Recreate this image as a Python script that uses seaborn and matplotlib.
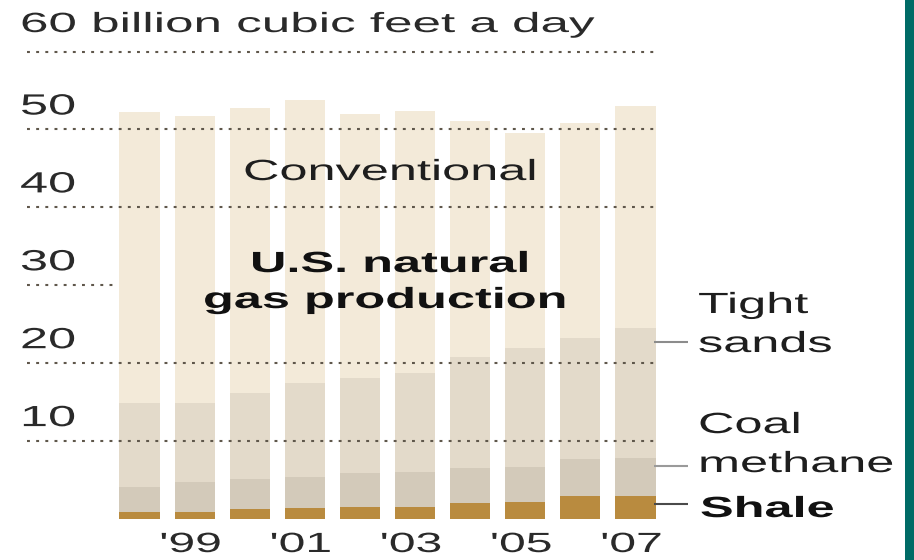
import matplotlib
matplotlib.use("Agg")
import matplotlib.pyplot as plt
import seaborn as sns
import pandas as pd
from matplotlib.patheffects import AbstractPathEffect
from matplotlib.transforms import Affine2D, ScaledTranslation, blended_transform_factory
from matplotlib.patches import Rectangle

# U.S. natural gas production by source, billion cubic feet a day
years = ["1998", "1999", "2000", "2001", "2002", "2003", "2004", "2005", "2006", "2007"]
shale = [0.9, 0.9, 1.3, 1.4, 1.5, 1.6, 2.0, 2.2, 2.9, 2.9]
coal_methane = [3.2, 3.8, 3.8, 4.0, 4.4, 4.4, 4.5, 4.5, 4.8, 4.9]
tight_sands = [10.8, 10.2, 11.1, 12.1, 12.2, 12.7, 14.3, 15.3, 15.5, 16.7]
conventional = [37.3, 36.8, 36.5, 36.3, 33.9, 33.7, 30.3, 27.6, 27.6, 28.5]

tick_years = ["1999", "2001", "2003", "2005", "2007"]
tick_labels = ["'99", "'01", "'03", "'05", "'07"]
grid_values = [10, 20, 30, 40, 50, 60]
axis_labels = [10, 20, 30, 40, 50]
leader_values = [22.7, 6.8, 1.9]

W, H, DPI = 914, 560, 100
SX = 1.73
INK = "#1e1e1e"
GRID = "#5f574b"
COLORS = {
    "Conventional": "#F3EAD9",
    "Tight sands": "#E3DACA",
    "Coal methane": "#D3CABA",
    "Shale": "#B98B3F",
}

sns.set_theme(style="white")
plt.rcParams["font.family"] = ["Liberation Sans", "DejaVu Sans"]

fig = plt.figure(figsize=(W / DPI, H / DPI), dpi=DPI, facecolor="white")
ax = fig.add_axes([0, 0, 1, 1])

df = pd.DataFrame({
    "year": years,
    "shale": shale,
    "coal": coal_methane,
    "tight": tight_sands,
    "conv": conventional,
})
df["top_shale"] = df["shale"]
df["top_coal"] = df["top_shale"] + df["coal"]
df["top_tight"] = df["top_coal"] + df["tight"]
df["total"] = df["top_tight"] + df["conv"]

# stacked columns: draw cumulative tops from the largest down
layers = [
    ("total", COLORS["Conventional"]),
    ("top_tight", COLORS["Tight sands"]),
    ("top_coal", COLORS["Coal methane"]),
    ("top_shale", COLORS["Shale"]),
]
for col, color in layers:
    sns.barplot(data=df, x="year", y=col, order=years, color=color,
                saturation=1, width=0.73, errorbar=None, linewidth=0, ax=ax)

ax.set_xlim(-2.532, 14.056)
ax.set_ylim(-5.263, 66.62)
ax.axis("off")

# dotted reference lines (the 30 line stops at the first column)
for v in grid_values:
    x_end = -0.41 if v == 30 else 9.36
    ax.hlines(v, -2.04, x_end, colors=GRID, linewidth=1.5,
              linestyles=(0, (1.4, 3.0)), zorder=5)

# leader lines to the series labels
for v, c in zip(leader_values, ["#8c8c8c", "#9a9a9a", "#4a4a4a"]):
    ax.hlines(v, 9.33, 9.95, colors=c, linewidth=1.5, zorder=5)


class WideGlyphs(AbstractPathEffect):
    """Draw glyph outlines widened horizontally about the text origin."""

    def __init__(self, sx):
        super().__init__()
        self._sx = sx

    def draw_path(self, renderer, gc, tpath, affine, rgbFace=None):
        renderer.draw_path(gc, tpath, Affine2D().scale(self._sx, 1.0) + affine, rgbFace)


renderer = fig.canvas.get_renderer()


def wide_text(x, y, s, transform, size=21, weight="normal", color=INK,
              width=None, center=False):
    t = fig.text(x, y, s, transform=transform, fontsize=size, fontweight=weight,
                 color=color, ha="left", va="baseline")
    natural = t.get_window_extent(renderer).width
    sx = SX if width is None else width / natural
    t.set_path_effects([WideGlyphs(sx)])
    if center:
        t.set_transform(transform + ScaledTranslation(-natural * sx / 2 / DPI, 0,
                                                      fig.dpi_scale_trans))
    return t


def px(x, y):
    return x / W, 1 - y / H


# unit title
wide_text(*px(20, 32), "60 billion cubic feet a day", fig.transFigure,
          size=20, color="#2a2a2a", width=574)

# value labels sit just above their dotted lines
ylab_tr = blended_transform_factory(fig.transFigure, ax.transData) + \
    ScaledTranslation(0, 15 / DPI, fig.dpi_scale_trans)
for v in axis_labels:
    wide_text(20 / W, v, str(v), ylab_tr, color="#2a2a2a")

# year labels below the columns
xlab_tr = ax.transData + ScaledTranslation(-4 / DPI, -33 / DPI, fig.dpi_scale_trans)
for yr, lab in zip(tick_years, tick_labels):
    wide_text(years.index(yr), 0, lab, xlab_tr, size=20, color="#2a2a2a",
              center=True)

# in-chart labels
wide_text(*px(243, 180), "Conventional", fig.transFigure)
wide_text(*px(250, 272), "U.S. natural", fig.transFigure, weight="bold", color="#111111")
wide_text(*px(203, 308), "gas production", fig.transFigure, weight="bold", color="#111111")

# series labels on the right
wide_text(*px(698, 313), "Tight", fig.transFigure)
wide_text(*px(698, 352), "sands", fig.transFigure)
wide_text(*px(698, 433), "Coal", fig.transFigure)
wide_text(*px(698, 472), "methane", fig.transFigure)
wide_text(*px(700, 517), "Shale", fig.transFigure, weight="bold", color="#111111")

# teal edge strip
fig.add_artist(Rectangle((905 / W, 0), 9 / W, 1, transform=fig.transFigure,
                         facecolor="#006B66", edgecolor="none"))

fig.savefig("out.png", dpi=DPI, facecolor="white")
